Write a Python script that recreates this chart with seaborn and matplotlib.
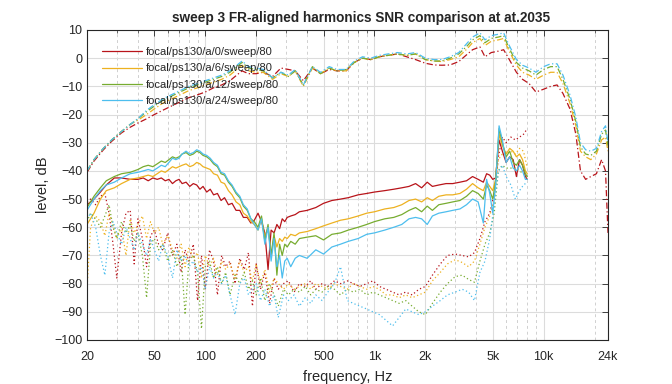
import numpy as np
import pandas as pd
import matplotlib
matplotlib.use("Agg")
import matplotlib.pyplot as plt
import seaborn as sns
from matplotlib.ticker import FixedLocator, NullFormatter

# series names and colours
labels = ["focal/ps130/a/0/sweep/80", "focal/ps130/a/6/sweep/80",
          "focal/ps130/a/12/sweep/80", "focal/ps130/a/24/sweep/80"]
colors = ["#B8141A", "#EDB120", "#77AC30", "#4DBEEE"]

# fundamental (dash-dot) curves
f_fund = [20, 22, 25, 28, 32, 36, 40, 45, 50, 56, 63, 71, 80, 90, 100, 112, 125, 140, 150, 165,
          180, 200, 220, 250, 280, 310, 340, 380, 430, 480, 540, 600, 680, 760, 850, 950, 1070,
          1200, 1370, 1550, 1750, 2000, 2250, 2500, 2800, 3150, 3550, 3800, 4200, 4500, 4900,
          5400, 5800, 6200, 6900, 7500, 8200, 9000, 10000, 11000, 12000, 13000, 14300, 15500,
          16500, 17700, 19000, 20500, 22000, 23200, 24000]
fund_red = [-40.5, -36.5, -32.5, -29.5, -26.5, -24.5, -23, -21.5, -20, -18.5, -17, -15.5, -14, -13, -12, -10.5,
            -9.5, -8, -6.5, -4.5, -5.5, -5.5, -5, -6.5, -3.5, -4, -4.5, -8, -3.5, -5.5, -4, -4.5, -4.5,
            -1.5, 0, -0.5, 0.5, 1, 1.5, 0.5, -0.5, -1.8, -2.4, -2.5, -2.4, -1.2, 1.5, 3, 4, 0.5, 2,
            2.5, 3, 0, -5, -7.5, -9, -12, -11, -10, -9.5, -12.5, -18, -27, -40, -43, -42, -41, -36,
            -40, -62]
fund_orange = [-40, -36, -32, -29, -26, -23.5, -22, -20, -18, -16, -14.5, -13, -11.5, -10.5, -9.5, -8.5,
               -7.5, -6, -4.5, -2.5, -4.5, -5, -5, -7.5, -5.5, -6.5, -4.5, -10, -3.5, -5.5, -3.5, -4.5,
               -4.5, -1.5, 0, -0.5, 0.5, 1, 1.5, 1, 1.5, -0.5, -1, -1.2, -0.5, 0.5, 3.5, 5.5, 7, 4.5,
               6, 6.5, 7, 3, -2.5, -5, -6, -7.5, -6, -5, -5, -9, -16, -24, -33, -35, -36, -34, -29,
               -28, -33]
fund_green = [-40, -36, -32, -29, -26, -23.5, -21.5, -19, -17, -15, -13.5, -12, -10.5, -9.5, -8.5, -7.5,
              -6.5, -5, -3.5, -1.5, -3.5, -4, -4.5, -7, -5, -6.5, -4.5, -9.5, -3, -5.5, -3.5, -4.5, -4,
              -1.5, 0, -0.5, 0.5, 1, 1.5, 1, 1.5, -0.5, -1, -1, 0, 1.5, 4.5, 6.5, 8, 5.5, 7, 7.5, 8,
              4, -1.5, -3.5, -4.5, -6, -4, -3, -3, -7.5, -14.5, -22.5, -31.5, -34, -34.5, -33, -27,
              -25.5, -31]
fund_blue = [-40, -36, -32, -29, -26, -23.5, -21.5, -18.5, -16.5, -14.5, -13, -11.5, -10, -9, -8, -7,
             -6, -4.5, -3, -1, -3, -3.5, -4, -7, -5, -6, -4, -9.5, -3, -5, -3, -4, -4, -1, 0.5, 0,
             1, 1.5, 2, 1.5, 2, 0, -0.5, -0.5, 0.5, 2, 5.5, 7.5, 9, 6.5, 8, 8.5, 9, 5, -0.5, -2.5,
             -3.5, -5, -3, -2, -2, -6, -13, -21, -30, -32.5, -33, -32, -26, -24, -30]

# second harmonic (solid) curves
f_h2 = [20, 22, 24, 26, 29, 32, 36, 40, 43, 46, 49, 52, 55, 58, 61, 64, 67, 70, 73, 77, 81, 85, 89,
        93, 97, 102, 107, 112, 118, 124, 130, 137, 144, 152, 160, 168, 177, 186, 195, 205, 215,
        225, 235, 245, 255, 265, 275, 285, 295, 305, 320, 340, 360, 400, 450, 500, 560, 630, 700,
        800, 900, 1000, 1150, 1300, 1450, 1600, 1750, 1900, 2050, 2200, 2400, 2650, 2900, 3200,
        3500, 3800, 4100, 4400, 4600, 4800, 5000, 5200, 5450, 5700, 6000, 6300, 6600, 6900, 7200,
        7500, 7800, 8000]
h2_red = [-52, -50, -47.5, -45, -42.5, -42.5, -43, -43,
          -42.5, -43.5, -42.5, -43, -42.5, -43.5, -43, -44.5, -43.5, -43, -44.5, -44, -45.5, -44.5,
          -45, -46.5, -45.5,
          -47.5, -46.5, -48.5, -48, -50.5, -49.5, -52, -51.5, -54, -54, -56.5, -56.5, -58.5, -57.5, -55,
          -58, -62, -75, -61, -62, -59, -60.5, -57, -58, -56.5, -56, -55.5, -54.5,
          -54, -53, -51.5, -50.5, -50, -49.5, -48.5, -48, -47.5, -47, -46.5, -46, -45.5, -44.5, -46,
          -44, -45.5, -45, -44.5, -44.5, -44, -43.5, -42, -43, -44, -41, -41.5, -43, -42.5, -29, -33,
          -37, -35, -36, -42, -36, -38, -42, -43]
h2_orange = [-59, -55, -50, -47, -46, -44.5, -43, -42.5,
             -42, -41.5, -42, -41, -40, -40.5, -39.5, -38.5, -39, -38.5, -38, -37.5, -38.5, -38, -37,
             -37.5, -38.5,
             -39, -39.5, -41, -41.5, -44, -44.5, -47, -48.5, -51, -52, -55, -56, -58, -59, -61,
             -57, -64, -60, -70, -63, -67, -64, -65, -63.5, -64, -62.5, -63, -62,
             -61.5, -60.5, -59.5, -58.5, -57.5, -57, -56, -55, -54.5, -53.5, -53, -52, -50.5, -50, -51,
             -49.5, -50.5, -49, -48.5, -48.5, -48, -46.5, -44.5, -46, -47, -44, -45.5, -47, -43, -27,
             -31, -34, -32, -33, -35, -34, -36, -40, -41]
h2_green = [-53, -49, -46, -43.5, -42, -41, -40.5, -39.5,
            -38.5, -38, -38.5, -37.5, -36.5, -37, -36, -35, -35.5, -35, -34, -33.5, -34.5, -34, -33,
            -33.5, -34.5,
            -35, -36, -37.5, -38.5, -41, -41.5, -44, -45.5, -48, -49.5, -52.5, -54, -57, -58, -60,
            -56, -65, -59, -70, -62, -77, -66, -70, -66, -67, -65, -66, -64,
            -63.5, -63, -64.5, -62.5, -62, -61, -60, -59, -58, -57, -56.5, -55.5, -54, -53, -54.5,
            -52.5, -54, -52, -51.5, -51, -50.5, -49, -47, -48, -50, -45, -47, -50, -44, -25, -30, -35,
            -33, -37, -38, -36, -38, -41, -42]
h2_blue = [-54, -50, -47, -45, -44, -42.5, -41, -40.5,
           -40, -39.5, -40, -39, -38, -38.5, -37, -35.5, -36, -35.5, -34, -33, -34, -33.5, -32.5, -33,
           -34,
           -34.5, -35.5, -37, -38, -40.5, -41, -43.5, -45, -47.5, -49, -52, -53.5, -57, -59, -61,
           -57, -66, -60, -72, -64, -74, -70, -78, -72, -71, -74, -71, -70,
           -71, -68, -69.5, -67, -66, -65, -64, -62.5, -62, -61, -60, -59, -57, -56.5, -57, -59, -56,
           -55, -54.5, -54, -53.5, -52, -50, -51, -58.5, -43, -48, -55, -45, -24, -29, -37, -35, -39,
           -40, -38, -40, -43, -43]

# third harmonic (dotted) curves
f_h3 = [20, 21, 22.5, 24, 25.5, 27, 28.5, 30, 32, 34, 36, 38, 40, 42.5, 45, 47.5, 50, 53, 56, 60, 64,
        68, 72, 76, 80, 85, 90, 95, 100, 106, 112, 118, 125, 132, 140, 150, 160, 170, 180, 190, 200,
        212, 225, 240, 255, 270, 290, 310, 335, 360, 390, 420, 450, 490, 530, 580, 630, 690, 750,
        820, 900, 980, 1070, 1170, 1280, 1400, 1530, 1670, 1830, 2000, 2200, 2450, 2700, 3000,
        3300, 3600, 3900, 4200, 4500, 4800, 5100, 5400, 5700, 6000, 6400, 6800, 7200, 7600, 8000]
h3_red = [-51, -50, -52, -49, -48, -55, -66, -78, -62, -55, -54, -73, -57, -64, -74, -63, -61, -66, -68,
          -62, -70, -66, -76, -68, -72, -66, -86, -70, -82, -68, -72, -84, -70, -74, -72, -80, -71,
          -75, -69, -88, -73, -82, -76, -87, -78, -82, -80, -79, -83, -80, -81, -79, -82, -80, -81,
          -79, -80, -79, -80, -81, -80, -79, -81, -82, -83, -84, -83, -84, -82, -81, -77, -73, -70,
          -69.5, -70, -70.5, -69, -64, -58, -55, -48, -35, -28, -30, -28, -29, -28, -27, -25]
h3_orange = [-82, -60, -56, -58, -63, -55, -59, -64, -60, -70, -57, -62, -59, -56, -64, -58, -62, -60,
             -66, -63, -68, -71, -66, -74, -67, -71, -69, -78, -70, -74, -71, -77, -72, -75, -73, -78,
             -72, -76, -74, -79, -73, -80, -75, -83, -78, -80, -82, -80, -82, -81, -80, -82, -80, -81,
             -82, -80, -81, -82, -80, -81, -82, -81, -82, -84, -84, -85, -84, -85, -84, -83, -79, -76,
             -73, -71.5, -72.5, -74, -72, -66, -60, -56, -50, -36, -34, -34, -33, -34, -32, -33, -39]
h3_green = [-58, -55, -57, -60, -56, -52, -60, -64, -58, -62, -59, -65, -62, -70, -85, -66, -64, -68,
            -66, -72, -68, -74, -70, -91, -72, -70, -76, -96, -74, -72, -78, -74, -80, -76, -84, -77,
            -80, -76, -82, -79, -84, -78, -86, -80, -84, -88, -82, -84, -82, -83, -81, -84, -82, -83,
            -81, -82, -84, -82, -83, -82, -84, -83, -84, -85, -86, -87, -86, -88, -90, -91, -87, -83,
            -80, -77.5, -77, -78.5, -79.5, -72, -66, -62, -55, -40, -38, -39, -39, -39, -40, -41, -42]
h3_blue = [-57, -55, -60, -70, -77, -62, -58, -62, -66, -60, -64, -68, -62, -66, -70, -64, -68, -72, -66,
           -70, -78, -68, -72, -70, -74, -72, -76, -74, -82, -74, -78, -76, -80, -77, -84, -91, -80,
           -78, -84, -82, -80, -86, -82, -88, -84, -92, -84, -86, -84, -88, -85, -87, -84, -86, -83,
           -80, -74, -86, -87, -88, -89, -90, -91, -93, -95, -92, -89, -90, -91, -90, -88, -86, -84,
           -83, -82, -83, -86, -76, -72, -64, -52, -40, -38, -42, -45, -50, -47, -45, -44]

fund = [fund_red, fund_orange, fund_green, fund_blue]
h2 = [h2_red, h2_orange, h2_green, h2_blue]
h3 = [h3_red, h3_orange, h3_green, h3_blue]

xticks = [20, 50, 100, 200, 500, 1000, 2000, 5000, 10000, 24000]
xticklabels = ["20", "50", "100", "200", "500", "1k", "2k", "5k", "10k", "24k"]

sns.set_style("white")
plt.rcParams["font.family"] = ["Liberation Sans", "DejaVu Sans"]

fig = plt.figure(figsize=(6.72, 3.84), dpi=100)
ax = fig.add_axes([87 / 672, 1 - 340 / 384, 521 / 672, 310 / 384])

handles = []
for i in range(4):
    sns.lineplot(x=f_fund, y=fund[i], ax=ax, color=colors[i], linewidth=0.9,
                 linestyle=(0, (5, 2, 1, 2)), estimator=None, sort=False)
    ln = sns.lineplot(x=f_h2, y=h2[i], ax=ax, color=colors[i], linewidth=0.9,
                      estimator=None, sort=False).lines[-1]
    handles.append(ln)
    sns.lineplot(x=f_h3, y=h3[i], ax=ax, color=colors[i], linewidth=0.9,
                 linestyle=(0, (1, 2)), estimator=None, sort=False)

ax.set_xscale("log")
ax.set_xlim(20, 24000)
ax.set_ylim(-100, 10)
ax.set_yticks(np.arange(-100, 11, 10))
ax.xaxis.set_major_locator(FixedLocator(xticks))
ax.set_xticklabels(xticklabels)
minor = [m * d for d in [10, 100, 1000, 10000] for m in range(2, 10) if 20 < m * d < 24000 and m * d not in xticks]
ax.xaxis.set_minor_locator(FixedLocator(minor))
ax.xaxis.set_minor_formatter(NullFormatter())

ax.grid(True, which="major", color="#dcdcdc", linewidth=0.8, linestyle="-")
ax.grid(True, which="minor", axis="x", color="#d0d0d0", linewidth=0.7, linestyle=(0, (3, 3)))
ax.set_axisbelow(True)

ax.tick_params(which="both", direction="in", top=True, right=True, labelsize=9, color="#262626")
ax.tick_params(which="major", length=4, width=0.6)
ax.tick_params(axis="x", which="major", pad=8)
ax.tick_params(which="minor", length=2, width=0.5)
for s in ax.spines.values():
    s.set_color("#262626")
    s.set_linewidth(0.8)

ax.set_xlabel("frequency, Hz", fontsize=10.5, labelpad=5)
ax.set_ylabel("level, dB", fontsize=10.5, labelpad=3)
ax.set_title("sweep 3 FR-aligned harmonics SNR comparison at at.2035", fontsize=9.8,
             fontweight="bold", pad=6, x=0.526)

ax.legend(handles, labels, loc="upper left", bbox_to_anchor=(0.025, 0.952), frameon=False,
          fontsize=8, handlelength=3.6, handletextpad=0.3, labelspacing=0.57, borderpad=0.2,
          borderaxespad=0)

fig.savefig("out.png", dpi=100)
